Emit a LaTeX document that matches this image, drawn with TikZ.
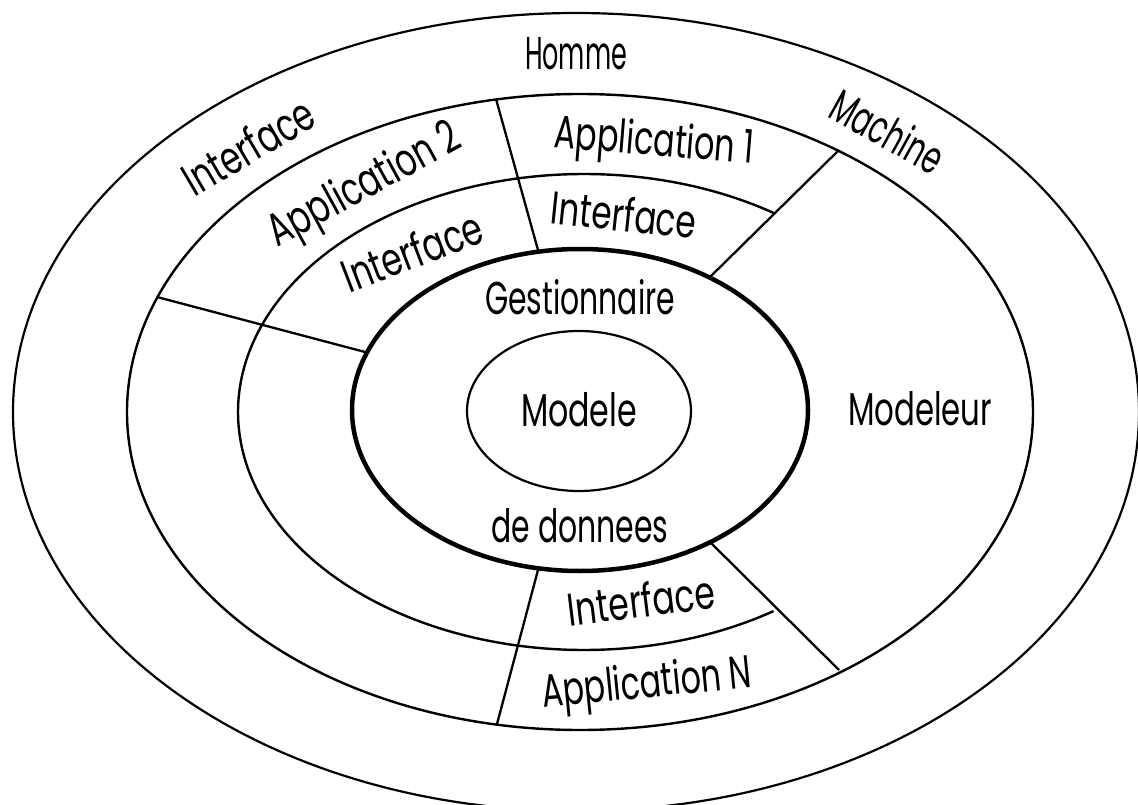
\documentclass[tikz,border=0pt]{standalone}
\usepackage{fontspec}
\setmainfont{Poppins}
\tikzset{
  thinring/.style={draw=black,line width=2.2pt},
  thickring/.style={draw=black,line width=4.5pt},
  spoke/.style={draw=black,line width=2.3pt},
  lbl/.style={inner sep=0pt,font=\fontsize{46}{46}\selectfont,text=black}
}
\newcommand{\fitw}[2]{\resizebox{#1pt}{\height}{#2}}
\begin{document}
\begin{tikzpicture}[x=1pt,y=-1pt]
\useasboundingbox (0,0) rectangle (1138,805);
\clip (0,0) rectangle (1138,805);
% rings
\draw[thinring] (576,412) ellipse [x radius=563,y radius=399];
\draw[thinring,line width=2.4pt] (580,412) ellipse [x radius=453,y radius=318];
\draw[thinring,line width=2.4pt] plot[domain=56.8:303.2,samples=120,smooth] ({584+346*cos(\x)},{412+238*sin(\x)});
\draw[thickring] (580,410) ellipse [x radius=228,y radius=161];
\draw[thinring] (579,411) ellipse [x radius=112,y radius=80];
% spoke ends
\coordinate (u1) at (496,99);
\coordinate (u2) at (538,250);
\coordinate (r1) at (839,150);
\coordinate (r2) at (710,277);
\coordinate (l1) at (157,297);
\coordinate (l2) at (365,352);
\coordinate (d1) at (538,570);
\coordinate (d2) at (497,724);
\coordinate (s1) at (710,542);
\coordinate (s2) at (839,670);
\draw[spoke] (u1) -- (u2);
\draw[spoke] (r1) -- (r2);
\draw[spoke] (l1) -- (l2);
\draw[spoke] (d1) -- (d2);
\draw[spoke] (s1) -- (s2);
% labels
\node[lbl] (homme) at (576,54) {\fitw{102}{Homme}};
\node[lbl,rotate=30.5] (ifa) at (248,146) {\fitw{145}{Interface}};
\node[lbl,rotate=-29] (mach) at (888,131) {\fitw{122}{Machine}};
\node[lbl,rotate=28.6] (app2) at (365,187) {\fitw{212}{Application 2}};
\node[lbl,rotate=-4.6] (app1) at (654,144) {\fitw{200}{Application 1}};
\node[lbl,rotate=21] (ifb) at (412,251) {\fitw{147}{Interface}};
\node[lbl,rotate=-6] (ifc) at (624,214) {\fitw{146}{Interface}};
\node[lbl] (gest) at (580,297) {\fitw{190}{Gestionnaire}};
\node[lbl] (modele) at (579,410) {\fitw{116}{Modele}};
\node[lbl] (modeleur) at (920,409) {\fitw{144}{Modeleur}};
\node[lbl] (dedon) at (580,526) {\fitw{177}{de donnees}};
\node[lbl,rotate=7] (ifd) at (641,600) {\fitw{148}{Interface}};
\node[lbl,rotate=5.7] (appn) at (647,686) {\fitw{211}{Application N}};
\end{tikzpicture}
\end{document}
